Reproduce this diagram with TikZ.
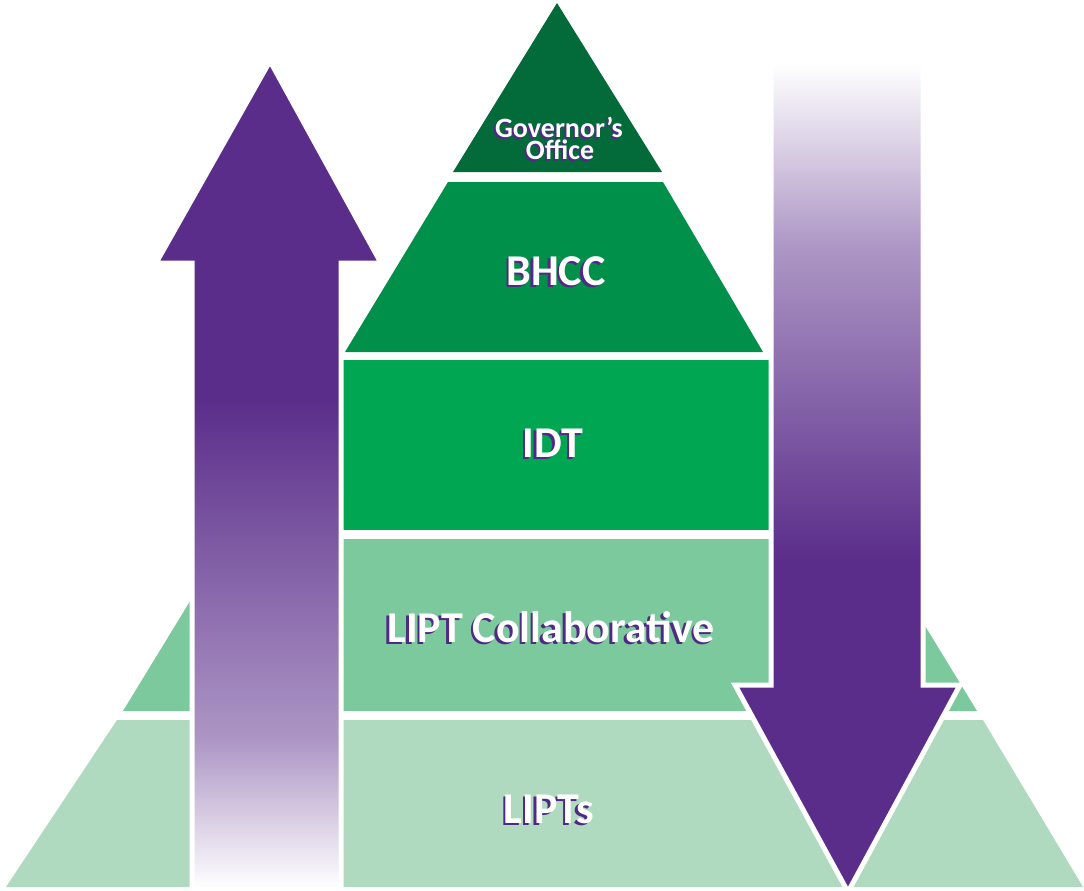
\documentclass[tikz,border=0pt]{standalone}
\usepackage{fontspec}
\setmainfont{Carlito}
\definecolor{govgreen}{HTML}{036B39}
\definecolor{bhccgreen}{HTML}{00904A}
\definecolor{idtgreen}{HTML}{00A651}
\definecolor{collabgreen}{HTML}{7DC99E}
\definecolor{liptgreen}{HTML}{AFDAC0}
\definecolor{arrowpurple}{HTML}{5A2D8A}
\definecolor{shadowpurple}{HTML}{4E2A85}
\colorlet{arrowmid}{arrowpurple!50!white}
\pgfdeclareverticalshading{upfade}{100bp}{color(0bp)=(white); color(25bp)=(white); color(34bp)=(arrowmid); color(54.6bp)=(arrowpurple); color(100bp)=(arrowpurple)}
\pgfdeclareverticalshading{downfade}{100bp}{color(0bp)=(arrowpurple); color(45bp)=(arrowpurple); color(63.9bp)=(arrowmid); color(75bp)=(white); color(100bp)=(white)}
\tikzset{
  layer/.style={draw=none},
  bigarrow/.style={draw=white, line width=5pt, line join=miter},
  lbl/.style={font=\bfseries\fontsize{44}{44}\selectfont, text=white, inner sep=0pt, anchor=base},
  shd/.style={lbl, text=shadowpurple, xshift=-2.5pt, yshift=-2.5pt},
  smalllbl/.style={lbl, font=\bfseries\fontsize{28}{22}\selectfont},
  smallshd/.style={smalllbl, text=shadowpurple, xshift=-2pt, yshift=-2pt}
}
\begin{document}
\begin{tikzpicture}[x=1pt, y=-1pt]
\useasboundingbox (0,0) rectangle (1084,891);
% pyramid layers
\fill[liptgreen] (117,720) -- (983,720) -- (1083,887) -- (6,887) -- cycle;
\fill[collabgreen] (123,711) -- (228,539) -- (872,539) -- (977,711) -- cycle;
\fill[idtgreen] (343,360) rectangle (769,530);
\fill[bhccgreen] (448,182) -- (663,182) -- (763,352) -- (345,352) -- cycle;
\fill[govgreen] (557,3) -- (662,172) -- (453,172) -- cycle;
% arrows
\path[bigarrow, shading=upfade] (270,61) -- (381,263) -- (341,263) -- (341,889) -- (192,889) -- (192,263) -- (156,263) -- cycle;
\path[bigarrow, shading=downfade] (771,64) -- (923,64) -- (923,685) -- (960,685) -- (848,892) -- (735,685) -- (771,685) -- cycle;
% labels
\node[smallshd] (govAs) at (559,137) {Governor’s};
\node[smalllbl] (govA) at (559,137) {Governor’s};
\node[smallshd] (govBs) at (560,159) {Office};
\node[smalllbl] (govB) at (560,159) {Office};
\node[shd] (bhccs) at (556,285) {BHCC};
\node[lbl] (bhcc) at (556,285) {BHCC};
\node[shd] (idts) at (553,457) {IDT};
\node[lbl] (idt) at (553,457) {IDT};
\node[shd] (collabs) at (551,642) {LIPT Collaborative};
\node[lbl] (collab) at (551,642) {LIPT Collaborative};
\node[shd] (lipts) at (549,823) {LIPTs};
\node[lbl] (lipt) at (549,823) {LIPTs};
\end{tikzpicture}
\end{document}
